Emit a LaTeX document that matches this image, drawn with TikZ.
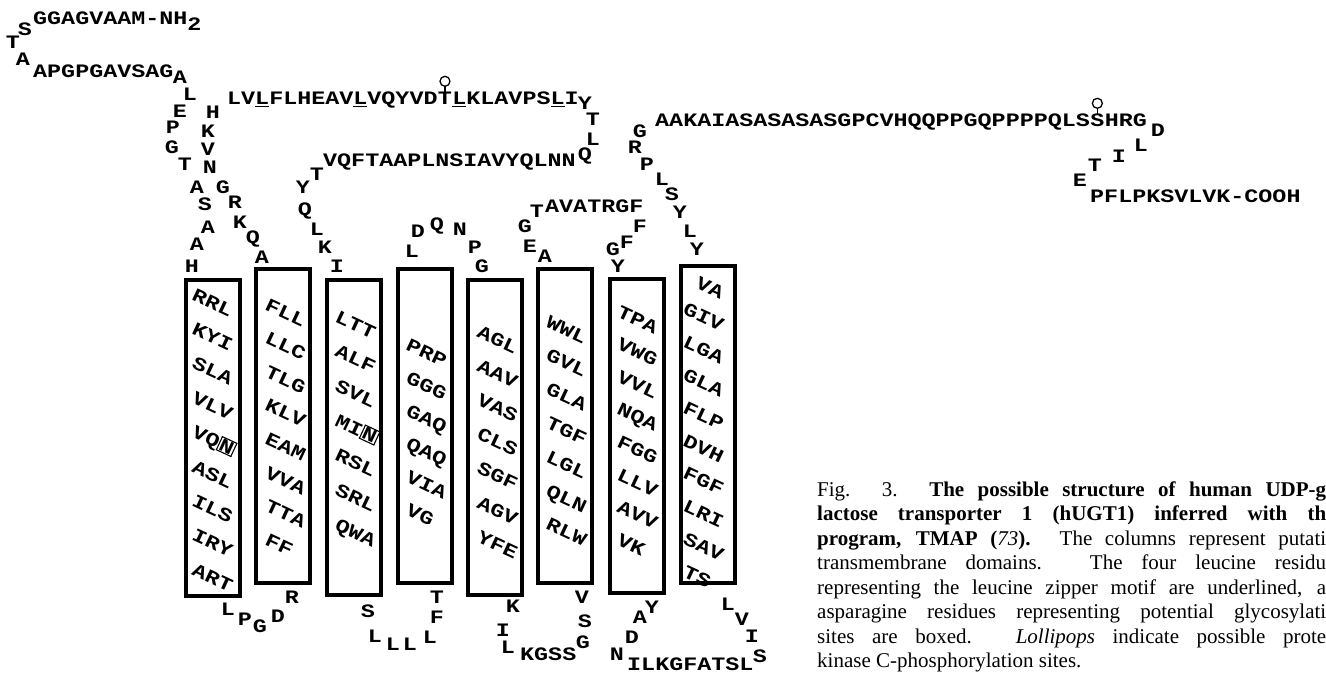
\documentclass[tikz,border=0pt]{standalone}
\usepackage{fontspec}
\setmainfont{Liberation Serif}
\newfontfamily\seqfont[FakeStretch=1.23]{Liberation Mono}
\usetikzlibrary{positioning,calc}
\setlength{\fboxsep}{0.4pt}
\setlength{\fboxrule}{1.1pt}
\newcommand{\glyc}[1]{\fbox{#1}}

\begin{document}
\begin{tikzpicture}[x=1pt, y=-1pt,
    aa/.style={font=\seqfont\bfseries\fontsize{19}{19}\selectfont, inner sep=0pt, text height=11pt, text depth=0pt},
    tri/.style={aa, anchor=west, rotate=-25},
    tmbox/.style={draw, line width=4pt, minimum width=54pt, inner sep=0pt},
    lolli/.style={line width=1.3pt},
    capline/.style={anchor=base west, inner sep=0pt, font=\fontsize{21}{24.5}\selectfont}
  ]
  \useasboundingbox (0,0) rectangle (1326,674);

  % N-terminus
  \node[aa, anchor=west] (nterm) at (33,19) {GGAGVAAM-NH\raisebox{-6pt}{2}};
  \node[aa] (n1) at (25,30) {S};
  \node[aa] (n2) at (13,43) {T};
  \node[aa] (n3) at (23,60) {A};
  \node[aa, anchor=west] (n4) at (33,72) {APGPGAVSAG};
  \node[aa] (n5) at (180,78) {A};
  \node[aa] (n6) at (190,95) {L};
  \node[aa] (n7) at (180,112) {E};
  \node[aa] (n8) at (173,128) {P};
  \node[aa] (n9) at (172,148) {G};
  \node[aa] (n10) at (185,165) {T};
  \node[aa] (n11) at (197,188) {A};
  \node[aa] (n12) at (205,205) {S};
  \node[aa] (n13) at (208,228) {A};
  \node[aa] (n14) at (197,245) {A};
  \node[aa] (n15) at (192,267) {H};

  % helices
  \node[tmbox, minimum height=316] (h1) at (212.5,438) {};
  \node[tmbox, minimum height=314] (h2) at (283,426) {};
  \node[tmbox, minimum height=315] (h3) at (354,437.5) {};
  \node[tmbox, minimum height=314] (h4) at (425,426) {};
  \node[tmbox, minimum height=315] (h5) at (495,437.5) {};
  \node[tmbox, minimum height=314] (h6) at (565,426) {};
  \node[tmbox, minimum height=314] (h7) at (636.5,436) {};
  \node[tmbox, minimum height=317] (h8) at (707.5,424.5) {};

  \foreach \t [count=\i from 0] in {RRL,KYI,SLA,VLV,VQ\glyc{N},ASL,ILS,IRY,ART}
    \node[tri] (h1-\i) at (193,294.1+34.4*\i) {\t};
  \foreach \t [count=\i from 0] in {FLL,LLC,TLG,KLV,EAM,VVA,TTA,FF}
    \node[tri] (h2-\i) at (266,304.1+33.6*\i) {\t};
  \foreach \t [count=\i from 0] in {LTT,ALF,SVL,MI\glyc{N},RSL,SRL,QWA}
    \node[tri] (h3-\i) at (336,316.1+34.7*\i) {\t};
  \foreach \t [count=\i from 0] in {PRP,GGG,GAQ,QAQ,VIA,VG}
    \node[tri] (h4-\i) at (407,344.1+33*\i) {\t};
  \foreach \t [count=\i from 0] in {AGL,AAV,VAS,CLS,SGF,AGV,YFE}
    \node[tri] (h5-\i) at (478,331.1+34.2*\i) {\t};
  \foreach \t [count=\i from 0] in {WWL,GVL,GLA,TGF,LGL,QLN,RLW}
    \node[tri] (h6-\i) at (547,321.1+33.8*\i) {\t};
  \foreach \t [count=\i from 0] in {TPA,VWG,VVL,NQA,FGG,LLV,AVV,VK}
    \node[tri] (h7-\i) at (618,311.1+32.6*\i) {\t};
  \foreach \t [count=\i from 0] in {\phantom{G}VA,GIV,LGA,GLA,FLP,DVH,FGF,LRI,SAV,TS}
    \node[tri] (h8-\i) at (684,276.1+32.8*\i) {\t};

  % loop 1-2
  \node[aa] (a1) at (228,610) {L};
  \node[aa] (a2) at (245,620) {P};
  \node[aa] (a3) at (260,627) {G};
  \node[aa] (a4) at (278,617) {D};
  \node[aa] (a5) at (292,598) {R};

  % loop 2-3 (leucine zipper)
  \node[aa] (b1) at (262,258) {A};
  \node[aa] (b2) at (253,238) {Q};
  \node[aa] (b3) at (240,223) {K};
  \node[aa] (b4) at (235,203) {R};
  \node[aa] (b5) at (223,188) {G};
  \node[aa] (b6) at (210,168) {N};
  \node[aa] (b7) at (208,150) {V};
  \node[aa] (b8) at (208,132) {K};
  \node[aa] (b9) at (213,113) {H};
  \node[aa, anchor=west] (top1) at (227,99) {LV\underline{L}FLHEAV\underline{L}VQYVD};
  \node[aa, right=0pt of top1] (topT) {T};
  \node[aa, right=0pt of topT] (top2) {\underline{L}KLAVPS\underline{L}I};
  \node[aa] (b10) at (585,104) {Y};
  \node[aa] (b11) at (593,120) {T};
  \node[aa] (b12) at (593,140) {L};
  \node[aa] (b13) at (585,155) {Q};
  \node[aa, anchor=west] (b14) at (323,161) {VQFTAAPLNSIAVYQLNN};
  \node[aa] (b15) at (317,175) {T};
  \node[aa] (b16) at (303,188) {Y};
  \node[aa] (b17) at (305,210) {Q};
  \node[aa] (b18) at (317,230) {L};
  \node[aa] (b19) at (325,248) {K};
  \node[aa] (b20) at (337,267) {I};
  \draw[lolli] (topT.north) -- ++(0,-7) coordinate (lp1);
  \draw[lolli] ($(lp1)+(0,-5)$) circle (5);

  % loop 3-4
  \node[aa] (c1) at (368,612) {S};
  \node[aa] (c2) at (375,637) {L};
  \node[aa] (c3) at (393,645) {L};
  \node[aa] (c4) at (410,645) {L};
  \node[aa] (c5) at (430,638) {L};
  \node[aa] (c6) at (437,618) {F};
  \node[aa] (c7) at (437,598) {T};

  % loop 4-5
  \node[aa] (d1) at (412,252) {L};
  \node[aa] (d2) at (418,232) {D};
  \node[aa] (d3) at (437,225) {Q};
  \node[aa] (d4) at (460,230) {N};
  \node[aa] (d5) at (475,248) {P};
  \node[aa] (d6) at (482,267) {G};

  % loop 5-6
  \node[aa] (e1) at (513,607) {K};
  \node[aa] (e2) at (503,631) {I};
  \node[aa] (e3) at (508,648) {L};
  \node[aa, anchor=west] (e4) at (520,655) {KGSS};
  \node[aa] (e5) at (583,643) {G};
  \node[aa] (e6) at (585,622) {S};
  \node[aa] (e7) at (582,598) {V};

  % loop 6-7
  \node[aa] (f1) at (545,257) {A};
  \node[aa] (f2) at (530,247) {E};
  \node[aa] (f3) at (525,227) {G};
  \node[aa] (f4) at (537,212) {T};
  \node[aa, anchor=west] (f5) at (545,207) {AVATRGF};
  \node[aa] (f6) at (640,227) {F};
  \node[aa] (f7) at (627,243) {F};
  \node[aa] (f8) at (613,250) {G};
  \node[aa] (f9) at (618,267) {Y};

  % loop 7-8
  \node[aa] (g1) at (652,608) {Y};
  \node[aa] (g2) at (640,618) {A};
  \node[aa] (g3) at (632,638) {D};
  \node[aa] (g4) at (617,655) {N};
  \node[aa, anchor=west] (g5) at (627,665) {ILKGFATSL};
  \node[aa] (g6) at (760,657) {S};
  \node[aa] (g7) at (752,637) {I};
  \node[aa] (g8) at (742,620) {V};
  \node[aa] (g9) at (728,605) {L};

  % C-terminus
  \node[aa] (k1) at (697,250) {Y};
  \node[aa] (k2) at (690,232) {L};
  \node[aa] (k3) at (680,213) {Y};
  \node[aa] (k4) at (672,195) {S};
  \node[aa] (k5) at (662,180) {L};
  \node[aa] (k6) at (647,165) {P};
  \node[aa] (k7) at (635,148) {R};
  \node[aa] (k8) at (640,132) {G};
  \node[aa, anchor=west] (ct1) at (655,121) {AAKAIASASASASGPCVHQQPPGQPPPPQLS};
  \node[aa, right=0pt of ct1] (ctS) {S};
  \node[aa, right=0pt of ctS] (ct2) {HRG};
  \node[aa] (k9) at (1158,131) {D};
  \node[aa] (k10) at (1141,146) {L};
  \node[aa] (k11) at (1119,157) {I};
  \node[aa] (k12) at (1095,166) {T};
  \node[aa] (k13) at (1080,181) {E};
  \node[aa, anchor=west] (cterm) at (1090,197) {PFLPKSVLVK-COOH};
  \draw[lolli] (ctS.north) -- ++(0,-7) coordinate (lp2);
  \draw[lolli] ($(lp2)+(0,-5)$) circle (5);

  % caption
  \node[capline] (cap1) at (817,496) {\makebox[509pt][s]{Fig. 3. \textbf{The possible structure of human UDP-g}}};
  \node[capline] (cap2) at (817,520.5) {\makebox[509pt][s]{\textbf{lactose transporter 1 (hUGT1) inferred with th}}};
  \node[capline] (cap3) at (817,545) {\makebox[509pt][s]{\textbf{program, TMAP (\textmd{\textit{73}}).} The columns represent putati}};
  \node[capline] (cap4) at (817,569.5) {\makebox[509pt][s]{transmembrane domains. The four leucine residu}};
  \node[capline] (cap5) at (817,594) {\makebox[509pt][s]{representing the leucine zipper motif are underlined, a}};
  \node[capline] (cap6) at (817,618.5) {\makebox[509pt][s]{asparagine residues representing potential glycosylati}};
  \node[capline] (cap7) at (817,643) {\makebox[509pt][s]{sites are boxed. \textit{Lollipops} indicate possible prote}};
  \node[capline] (cap8) at (817,667.5) {kinase C-phosphorylation sites.};
\end{tikzpicture}
\end{document}
